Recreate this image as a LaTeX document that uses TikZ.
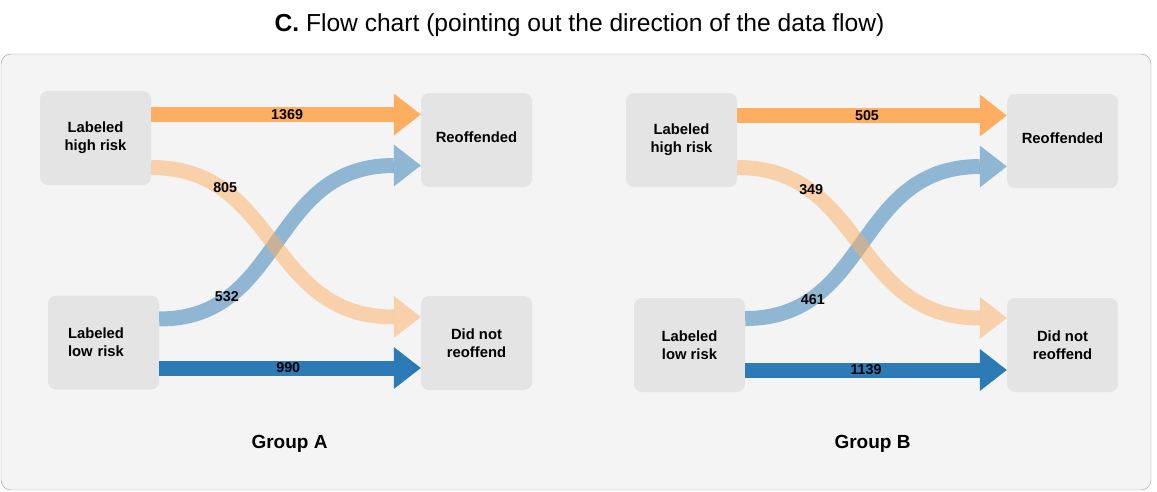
\documentclass[tikz,border=0pt]{standalone}
\usepackage{fontspec}
\setmainfont{Liberation Sans}
\usetikzlibrary{positioning}

\definecolor{highrisk}{HTML}{FDAE61}
\definecolor{lowrisk}{HTML}{2C7BB6}
\definecolor{panelbg}{HTML}{F4F4F4}
\definecolor{panelline}{HTML}{9A9A9A}
\definecolor{boxbg}{HTML}{E4E4E4}

% arrow head: colour, tip point
\newcommand{\arrowhd}[2]{\fill[#1] (#2) -- ++(-27,21) -- ++(0,-42) -- cycle;}

\begin{document}
\begin{tikzpicture}[x=1pt, y=-1pt,
    box/.style={fill=boxbg, rounded corners=8pt, minimum width=111pt, minimum height=94pt,
                inner sep=0pt, align=center, font=\bfseries\fontsize{14.8}{18}\selectfont},
    band/.style={line width=15pt},
    num/.style={font=\bfseries\fontsize{14.3}{16}\selectfont},
    grp/.style={anchor=base, font=\bfseries\fontsize{19}{22}\selectfont}]

\useasboundingbox (0,0) rectangle (1157,491);

\node[anchor=base, font=\fontsize{24.6}{28}\selectfont] (title) at (579.5,31.5)
    {\textbf{C.} Flow chart (pointing out the direction of the data flow)};
\draw[panelline, fill=panelbg, rounded corners=10pt] (1,54) rectangle (1151,490);

% Group A
\node[box] (hiA) at (95.5,138) {Labeled\\high risk};
\node[box, text width=71pt, align=left, inner xsep=20pt] (loA) at (103.5,342.5) {Labeled\\low risk};
\node[box] (reA) at (476.5,140) {Reoffended\\[-12pt]};
\node[box] (dnA) at (476.5,343) {Did not\\reoffend};
\node[grp] (grpA) at (289.5,448.5) {Group A};

% Group B
\node[box] (hiB) at (681.5,140) {Labeled\\high risk};
\node[box] (loB) at (689.5,345) {Labeled\\low risk};
\node[box] (reB) at (1062.5,141) {Reoffended\\[-12pt]};
\node[box] (dnB) at (1062.5,345) {Did not\\reoffend};
\node[grp] (grpB) at (872.5,448.5) {Group B};

% tips
\coordinate (tA1) at ([yshift=25.5pt]reA.west);
\coordinate (tA2) at ([yshift=-25.5pt]reA.west);
\coordinate (tA3) at ([yshift=26pt]dnA.west);
\coordinate (tA4) at ([yshift=-25pt]dnA.west);
\coordinate (tB1) at ([yshift=25.5pt]reB.west);
\coordinate (tB2) at ([yshift=-25.5pt]reB.west);
\coordinate (tB3) at ([yshift=27pt]dnB.west);
\coordinate (tB4) at ([yshift=-25pt]dnB.west);

% flows, group A
\draw[band, draw=lowrisk, draw opacity=.5] ([yshift=23.5pt]loA.east)
    to[out=0, in=180, looseness=1.15] node[num, pos=.23, yshift=2pt] {532} ([xshift=-27pt]tA2);
\arrowhd{lowrisk, fill opacity=.5}{tA2}
\draw[band, draw=highrisk, draw opacity=.5] ([yshift=-29.5pt]hiA.east)
    to[out=0, in=180, looseness=1.15] node[num, pos=.25, yshift=3pt] {805} ([xshift=-27pt]tA3);
\arrowhd{highrisk, fill opacity=.5}{tA3}
\draw[band, draw=highrisk] ([yshift=23.5pt]hiA.east) -- node[num, pos=.56] {1369} ([xshift=-27pt]tA1);
\arrowhd{highrisk}{tA1}
\draw[band, draw=lowrisk] ([yshift=-25.5pt]loA.east) -- node[num, pos=.55] {990} ([xshift=-27pt]tA4);
\arrowhd{lowrisk}{tA4}

% flows, group B
\draw[band, draw=lowrisk, draw opacity=.5] ([yshift=26.5pt]loB.east)
    to[out=0, in=180, looseness=1.15] node[num, pos=.23, yshift=-1pt] {461} ([xshift=-27pt]tB2);
\arrowhd{lowrisk, fill opacity=.5}{tB2}
\draw[band, draw=highrisk, draw opacity=.5] ([yshift=-27.5pt]hiB.east)
    to[out=0, in=180, looseness=1.15] node[num, pos=.25, yshift=1pt] {349} ([xshift=-27pt]tB3);
\arrowhd{highrisk, fill opacity=.5}{tB3}
\draw[band, draw=highrisk] ([yshift=24.5pt]hiB.east) -- node[num, pos=.535] {505} ([xshift=-27pt]tB1);
\arrowhd{highrisk}{tB1}
\draw[band, draw=lowrisk] ([yshift=-25pt]loB.east) -- node[num, pos=.515] {1139} ([xshift=-27pt]tB4);
\arrowhd{lowrisk}{tB4}
\end{tikzpicture}
\end{document}
